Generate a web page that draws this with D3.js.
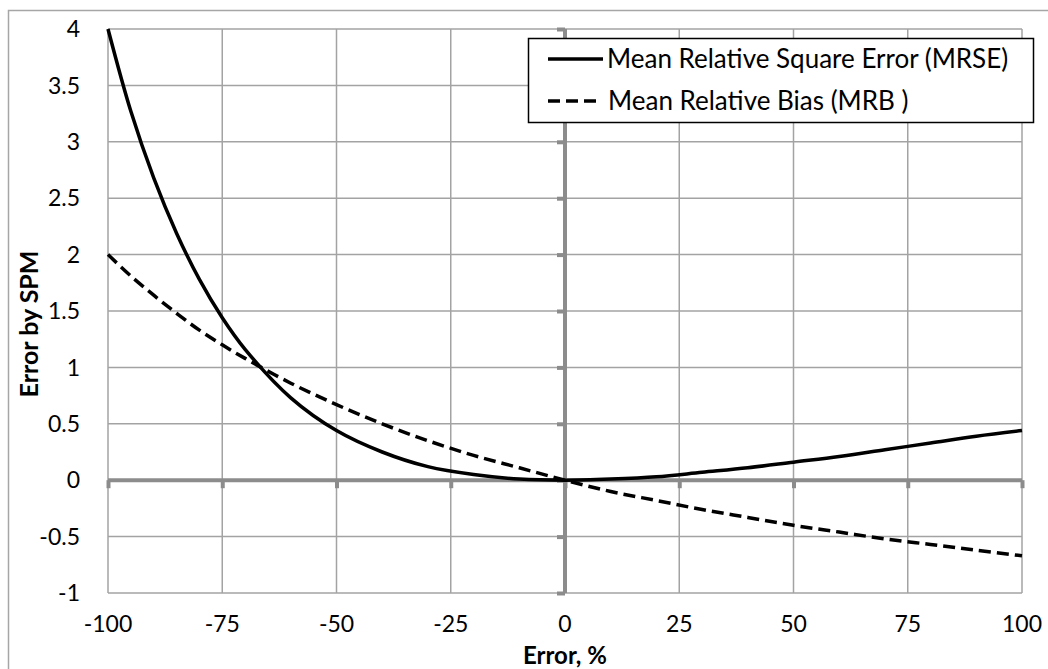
<!DOCTYPE html>
<html>
<head>
<meta charset="utf-8">
<script src="https://cdn.jsdelivr.net/npm/d3@7"></script>
<style>
  body { margin: 0; background: #fff; }
  svg { display: block; font-family: Lato, "Open Sans", sans-serif; }
</style>
</head>
<body>
<div id="chart"></div>
<script>
var width = 1048;
var height = 669;

// values
var errorPct = [-100, -95, -90, -85, -80, -75, -70, -60, -50, -40, -30, -20, -10, 0,
                10, 20, 30, 40, 50, 60, 70, 80, 90, 100];
var mrse = [4, 3.27, 2.68, 2.19, 1.78, 1.44, 1.16, 0.73, 0.44, 0.25, 0.12, 0.05, 0.01, 0,
            0.01, 0.03, 0.07, 0.11, 0.16, 0.21, 0.27, 0.33, 0.39, 0.44];
var mrb = [2, 1.81, 1.64, 1.48, 1.33, 1.2, 1.08, 0.86, 0.67, 0.5, 0.35, 0.22, 0.11, 0,
           -0.1, -0.18, -0.26, -0.33, -0.4, -0.46, -0.52, -0.57, -0.62, -0.67];
var xTicks = [-100, -75, -50, -25, 0, 25, 50, 75, 100];
var yTicks = [-1, -0.5, 0, 0.5, 1, 1.5, 2, 2.5, 3, 3.5, 4];
var seriesNames = ["Mean Relative Square Error (MRSE)", "Mean Relative Bias (MRB )"];

var plotLeft = 108, plotRight = 1022, plotTop = 29, plotBottom = 593;
var gridColor = "#a3a3a3";
var axisColor = "#8c8c8c";

var svg = d3.select("#chart").append("svg")
    .attr("width", width)
    .attr("height", height);

// outer chart border
svg.append("path")
    .attr("d", "M8.5," + height + "V10.5H" + width)
    .attr("fill", "none")
    .attr("stroke", "#a6a6a6")
    .attr("stroke-width", 1.5);

var xScale = d3.scaleLinear().domain([-100, 100]).range([plotLeft, plotRight]);
var yScale = d3.scaleLinear().domain([-1, 4]).range([plotBottom, plotTop]);

// grid
var grid = svg.append("g");
grid.selectAll(".vg").data(xTicks).enter().append("line")
    .attr("x1", function (d) { return xScale(d); })
    .attr("x2", function (d) { return xScale(d); })
    .attr("y1", plotTop).attr("y2", plotBottom)
    .attr("stroke", gridColor).attr("stroke-width", 1.5);
grid.selectAll(".hg").data(yTicks).enter().append("line")
    .attr("y1", function (d) { return yScale(d); })
    .attr("y2", function (d) { return yScale(d); })
    .attr("x1", plotLeft).attr("x2", plotRight)
    .attr("stroke", gridColor).attr("stroke-width", 1.5);

// zero axes with ticks
var xAxis = d3.axisBottom(xScale).tickValues(xTicks).tickSize(8).tickFormat("");
var xg = svg.append("g")
    .attr("transform", "translate(0," + yScale(0) + ")")
    .call(xAxis);
var yAxis = d3.axisLeft(yScale).tickValues(yTicks).tickSize(8).tickFormat("");
var yg = svg.append("g")
    .attr("transform", "translate(" + xScale(0) + ",0)")
    .call(yAxis);
[xg, yg].forEach(function (g) {
    g.select(".domain").attr("stroke", axisColor).attr("stroke-width", 4);
    g.selectAll(".tick line").attr("stroke", axisColor).attr("stroke-width", 4);
});
xg.select(".domain").attr("d", "M" + plotLeft + ",0H" + plotRight);
yg.select(".domain").attr("d", "M0," + plotTop + "V" + plotBottom);

// tick labels
svg.append("g").selectAll("text").data(yTicks).enter().append("text")
    .attr("x", 80)
    .attr("y", function (d) { return yScale(d); })
    .attr("dy", "0.36em")
    .attr("text-anchor", "end")
    .attr("font-size", 23)
    .text(function (d) { return d; });
svg.append("g").selectAll("text").data(xTicks).enter().append("text")
    .attr("x", function (d) { return xScale(d); })
    .attr("y", 632)
    .attr("text-anchor", "middle")
    .attr("font-size", 23)
    .text(function (d) { return d; });

// axis titles
svg.append("text")
    .attr("x", xScale(0)).attr("y", 664)
    .attr("text-anchor", "middle")
    .attr("font-size", 24).attr("font-weight", "bold")
    .text("Error, %");
svg.append("text")
    .attr("transform", "translate(38,324) rotate(-90)")
    .attr("text-anchor", "middle")
    .attr("font-size", 25).attr("font-weight", "bold")
    .text("Error by SPM");

// curves
var line = d3.line()
    .x(function (d) { return xScale(d[0]); })
    .y(function (d) { return yScale(d[1]); })
    .curve(d3.curveCatmullRom);

svg.append("path")
    .datum(d3.zip(errorPct, mrse))
    .attr("d", line)
    .attr("fill", "none")
    .attr("stroke", "#000")
    .attr("stroke-width", 3.5);
svg.append("path")
    .datum(d3.zip(errorPct, mrb))
    .attr("d", line)
    .attr("fill", "none")
    .attr("stroke", "#000")
    .attr("stroke-width", 3.5)
    .attr("stroke-dasharray", "12,6");

// legend
var legend = svg.append("g");
legend.append("rect")
    .attr("x", 528.5).attr("y", 38.5)
    .attr("width", 505).attr("height", 84)
    .attr("fill", "#fff")
    .attr("stroke", "#000")
    .attr("stroke-width", 1.5);
legend.append("line")
    .attr("x1", 548).attr("x2", 603).attr("y1", 59).attr("y2", 59)
    .attr("stroke", "#000").attr("stroke-width", 3.5);
legend.append("line")
    .attr("x1", 548).attr("x2", 596).attr("y1", 101).attr("y2", 101)
    .attr("stroke", "#000").attr("stroke-width", 3.5)
    .attr("stroke-dasharray", "12,6");
legend.append("text")
    .attr("x", 607).attr("y", 68)
    .attr("font-size", 26)
    .text(seriesNames[0]);
legend.append("text")
    .attr("x", 608).attr("y", 110)
    .attr("font-size", 26)
    .text(seriesNames[1]);
</script>
</body>
</html>
